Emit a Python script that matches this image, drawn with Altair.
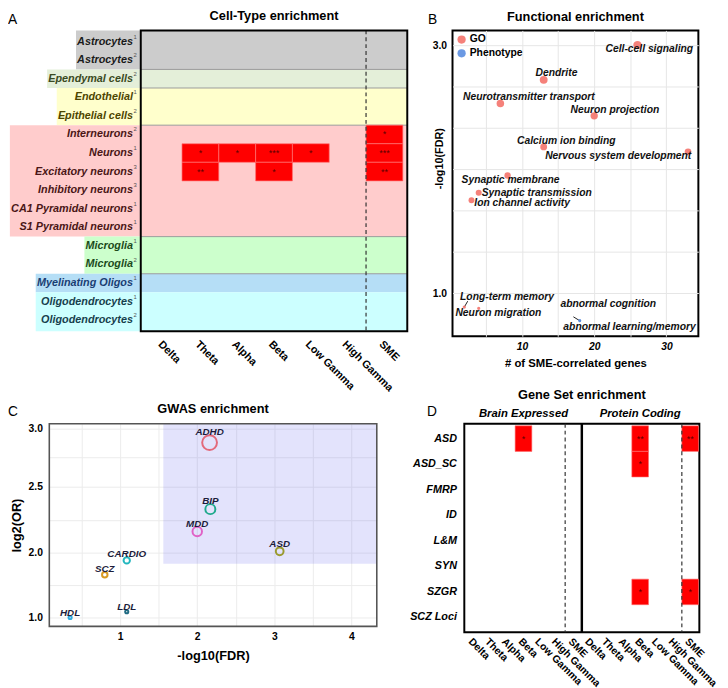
import altair as alt
import pandas as pd

FONT = "Liberation Sans"

# ===================== DATA =====================
# Panel A - cell-type enrichment
freq_bands = ["Delta", "Theta", "Alpha", "Beta", "Low Gamma", "High Gamma", "SME"]
cell_types = ["Astrocytes", "Astrocytes", "Ependymal cells", "Endothelial", "Epithelial cells",
              "Interneurons", "Neurons", "Excitatory neurons", "Inhibitory neurons",
              "CA1 Pyramidal neurons", "S1 Pyramidal neurons", "Microglia", "Microglia",
              "Myelinating Oligos", "Oligodendrocytes", "Oligodendrocytes"]
cell_refs = ["1", "2", "2", "1", "2", "2", "1", "3", "3", "1", "1", "1", "2", "1", "1", "2"]
cell_class = ["Astrocyte", "Astrocyte", "Ependymal", "Vascular", "Vascular",
              "Neuron", "Neuron", "Neuron", "Neuron", "Neuron", "Neuron",
              "Microglia", "Microglia", "Myelinating", "Oligodendrocyte", "Oligodendrocyte"]
cell_lineage = ["Astro", "Astro", "Ependymal", "Vascular", "Vascular",
                "Neuron", "Neuron", "Neuron", "Neuron", "Neuron", "Neuron",
                "Microglia", "Microglia", "Oligo", "Oligo", "Oligo"]
ct_hit_row = [6, 7, 7, 7, 7, 7, 8, 8, 8]
ct_hit_band = ["SME", "Theta", "Alpha", "Beta", "Low Gamma", "SME", "Theta", "Beta", "SME"]
ct_hit_stars = ["*", "*", "*", "***", "*", "***", "**", "*", "**"]

# Panel B - functional enrichment
fe_terms = ["Cell-cell signaling", "Dendrite", "Neurotransmitter transport", "Neuron projection",
            "Calcium ion binding", "Nervous system development", "Synaptic membrane",
            "Synaptic transmission", "Ion channel activity", "Long-term memory",
            "Neuron migration", "abnormal cognition", "abnormal learning/memory"]
fe_genes = [26, 13, 7, 20, 13, 33, 8, 4, 3, 2, 4, 18, 18]
fe_mlogfdr = [3.0, 2.72, 2.53, 2.43, 2.18, 2.14, 1.95, 1.81, 1.75, 0.89, 0.88, 0.78, 0.78]
fe_source = ["GO"] * 11 + ["Phenotype"] * 2

# Panel C - GWAS enrichment
gwas_traits = ["ADHD", "BIP", "MDD", "ASD", "CARDIO", "SCZ", "LDL", "HDL"]
gwas_mlogfdr = [2.16, 2.17, 2.0, 3.07, 1.085, 0.8, 1.085, 0.35]
gwas_log2or = [2.88, 2.33, 2.16, 2.01, 1.88, 1.66, 1.09, 1.0]
gwas_overlap = [22, 10, 9, 6, 4, 3, 1, 1]
gwas_fdr_cut = 1.56
gwas_or_cut = 1.83

# Panel D - gene set enrichment
gene_sets = ["ASD", "ASD_SC", "FMRP", "ID", "L&M", "SYN", "SZGR", "SCZ Loci"]
gs_backgrounds = ["Brain Expressed", "Protein Coding"]
gs_hit_bg = ["Brain Expressed", "Protein Coding", "Protein Coding", "Protein Coding",
             "Protein Coding", "Protein Coding"]
gs_hit_set = ["ASD", "ASD", "ASD", "ASD_SC", "SZGR", "SZGR"]
gs_hit_band = ["Beta", "Beta", "SME", "Beta", "Beta", "SME"]
gs_hit_stars = ["*", "**", "**", "*", "*", "*"]

# ===================== STYLE =====================
class_order = ["Astrocyte", "Ependymal", "Vascular", "Neuron", "Microglia", "Myelinating", "Oligodendrocyte"]
class_fill = ["#cccccc", "#e4efd9", "#ffffcc", "#ffcccc", "#ccffcc", "#b5def6", "#ccffff"]
class_text = ["#1a1a1a", "#3a4a22", "#4d4500", "#4a1616", "#1b4a1b", "#1a3d73", "#17404d"]
fe_colors = ["#f4736c", "#5b8ee0"]
fe_label_nudge = [(12, 4), (13, -7), (29, -6), (21, -6), (23, -6), (-71, 4), (3, 5),
                  (59, 0), (51.5, 3), (43.5, -10.7), (20, 5), (29, -17), (50.6, 6.3)]
# leader segments (pixel end offsets from the point) for repelled labels
fe_leaders = {9: (3.5, -6), 12: (-6.5, -4)}
gwas_colors = ["#e36a7b", "#1fa98c", "#e062c6", "#9a9a2e", "#22b6be", "#d99a22", "#1f6a82", "#2eaadf"]

ARIAL_BOLD = {' ': 278, 'A': 722, 'C': 722, 'D': 722, 'E': 667, 'I': 278, 'M': 833, 'N': 722,
              'O': 778, 'P': 667, 'S': 667, 'T': 611, '1': 556,
              'a': 556, 'b': 611, 'c': 556, 'd': 611, 'e': 556, 'f': 333, 'g': 611, 'h': 611,
              'i': 278, 'l': 278, 'm': 889, 'n': 611, 'o': 611, 'p': 611, 'r': 389, 's': 556,
              't': 333, 'u': 611, 'x': 556, 'y': 556}


def text_width(s, size):
    return sum(ARIAL_BOLD.get(ch, 600) for ch in s) * size / 1000.0


# plot-area sizes
LEFT_GAP = 42
A_LAB_W, A_W, A_H = 93, 271, 306
AB_GAP = 46
B_W, B_H = 250, 311
C_W, C_H = 333, 206
CD_GAP = 89
D_W, D_H = 239, 212
ROW_GAP = -5


def letter_chart(letter, width, height, x, y):
    return alt.Chart(pd.DataFrame({"t": [letter]})).mark_text(
        align="left", baseline="alphabetic", font=FONT, fontSize=14, color="black").encode(
        text="t:N", x=alt.value(x), y=alt.value(y)).properties(width=width, height=height)


# ===================== PANEL A =====================
n_rows = len(cell_types)
A_XDOM = [0.38, len(freq_bands) + 0.62]
A_YDOM = [0.4, n_rows + 0.6]
LABEL_SIZE = 11

rows_df = pd.DataFrame({"row": list(range(1, n_rows + 1)), "label": cell_types,
                        "ref": cell_refs, "cls": cell_class})
rows_df["xr"] = 1.0

lineage_ext = {}
for lab, lin in zip(cell_types, cell_lineage):
    lineage_ext[lin] = max(lineage_ext.get(lin, 0), text_width(lab, LABEL_SIZE) + 9)

runs = []
start = 1
for i in range(1, n_rows + 1):
    if i == n_rows or cell_class[i] != cell_class[i - 1]:
        runs.append((cell_class[i - 1], cell_lineage[i - 1], start, i))
        start = i + 1
band_df = pd.DataFrame({
    "cls": [r[0] for r in runs],
    "y0": [A_YDOM[0] if r[2] == 1 else r[2] - 0.5 for r in runs],
    "y1": [A_YDOM[1] if r[3] == n_rows else r[3] + 0.5 for r in runs],
    "lx0": [1 - lineage_ext[r[1]] / A_LAB_W for r in runs],
    "lx1": [1.0] * len(runs),
    "gx0": [A_XDOM[0]] * len(runs),
    "gx1": [A_XDOM[1]] * len(runs),
})
sep_df = pd.DataFrame({"y": [i + 0.5 for i in range(1, n_rows)
                             if cell_lineage[i] != cell_lineage[i - 1]]})

col_of = {b: i + 1 for i, b in enumerate(freq_bands)}
hits_df = pd.DataFrame({"row": ct_hit_row, "col": [col_of[b] for b in ct_hit_band],
                        "stars": ct_hit_stars})
hits_df["x0"] = hits_df["col"] - 0.5
hits_df["x1"] = hits_df["col"] + 0.5
hits_df["y0"] = hits_df["row"] - 0.5
hits_df["y1"] = hits_df["row"] + 0.5
dash_df = pd.DataFrame({"x": [col_of["SME"] - 0.5]})
bordA_df = pd.DataFrame({"x0": [A_XDOM[0]], "x1": [A_XDOM[1]], "y0": [A_YDOM[0]], "y1": [A_YDOM[1]]})

sAx = alt.Scale(domain=A_XDOM, nice=False, zero=False)
sAy = alt.Scale(domain=A_YDOM, reverse=True, nice=False, zero=False)
sLx = alt.Scale(domain=[0, 1], nice=False, zero=False)
fill_scale = alt.Scale(domain=class_order, range=class_fill)
textcol_scale = alt.Scale(domain=class_order, range=class_text)

band_names_js = "[" + ",".join("'" + b + "'" for b in freq_bands) + "]"
axA = alt.Axis(values=list(range(1, len(freq_bands) + 1)),
               labelExpr=band_names_js + "[datum.value - 1]",
               labelAngle=45, labelAlign="left", labelBaseline="top", labelPadding=7,
               labelFontSize=11, labelFontWeight="bold", labelOverlap=False, labelBound=False,
               ticks=False, domain=False, grid=False, title=None)

lab_bands = alt.Chart(band_df).mark_rect().encode(
    x=alt.X("lx0:Q", scale=sLx, axis=None), x2="lx1:Q",
    y=alt.Y("y0:Q", scale=sAy, axis=None), y2="y1:Q",
    fill=alt.Fill("cls:N", scale=fill_scale, legend=None))
lab_text = alt.Chart(rows_df).mark_text(
    align="right", baseline="middle", dx=-8, font=FONT, fontSize=LABEL_SIZE,
    fontWeight="bold", fontStyle="italic").encode(
    x=alt.X("xr:Q", scale=sLx, axis=None), y=alt.Y("row:Q", scale=sAy, axis=None),
    text="label:N", color=alt.Color("cls:N", scale=textcol_scale, legend=None))
lab_sup = alt.Chart(rows_df).mark_text(
    align="left", baseline="middle", dx=-7.5, dy=-5, font=FONT, fontSize=6, color="#555555").encode(
    x=alt.X("xr:Q", scale=sLx, axis=None), y=alt.Y("row:Q", scale=sAy, axis=None), text="ref:N")
A_labels = alt.layer(lab_bands, lab_text, lab_sup).properties(width=A_LAB_W, height=A_H)

g_bands = alt.Chart(band_df).mark_rect().encode(
    x=alt.X("gx0:Q", scale=sAx, axis=axA), x2="gx1:Q",
    y=alt.Y("y0:Q", scale=sAy, axis=None), y2="y1:Q",
    fill=alt.Fill("cls:N", scale=fill_scale, legend=None))
g_seps = alt.Chart(sep_df).mark_rule(color="#9a9a9a", strokeWidth=1).encode(
    y=alt.Y("y:Q", scale=sAy, axis=None))
g_tiles = alt.Chart(hits_df).mark_rect(color="#ff0000", stroke="#ff7373", strokeWidth=0.7).encode(
    x=alt.X("x0:Q", scale=sAx, axis=axA), x2="x1:Q",
    y=alt.Y("y0:Q", scale=sAy, axis=None), y2="y1:Q")
g_stars = alt.Chart(hits_df).mark_text(font=FONT, fontSize=9, color="#5a0000", baseline="middle").encode(
    x=alt.X("col:Q", scale=sAx, axis=axA), y=alt.Y("row:Q", scale=sAy, axis=None), text="stars:N")
g_dash = alt.Chart(dash_df).mark_rule(color="#333333", strokeWidth=1.2, strokeDash=[4, 3]).encode(
    x=alt.X("x:Q", scale=sAx, axis=axA))
g_border = alt.Chart(bordA_df).mark_rect(fillOpacity=0, stroke="black", strokeWidth=2).encode(
    x=alt.X("x0:Q", scale=sAx, axis=axA), x2="x1:Q",
    y=alt.Y("y0:Q", scale=sAy, axis=None), y2="y1:Q")
A_grid = alt.layer(g_bands, g_seps, g_tiles, g_stars, g_dash, g_border).properties(
    width=A_W, height=A_H,
    title=alt.TitleParams("Cell-Type enrichment", frame="group", offset=7))

# ===================== PANEL B =====================
B_XDOM = [0.37, 34.43]
B_YDOM = [0.655, 3.118]
pxx_B = B_W / (B_XDOM[1] - B_XDOM[0])
pxy_B = B_H / (B_YDOM[1] - B_YDOM[0])
fe_df = pd.DataFrame({"term": fe_terms, "genes": fe_genes, "mlogfdr": fe_mlogfdr, "source": fe_source})
fe_df["lx"] = [g + n[0] / pxx_B for g, n in zip(fe_genes, fe_label_nudge)]
fe_df["ly"] = [v - n[1] / pxy_B for v, n in zip(fe_mlogfdr, fe_label_nudge)]
lead_idx = sorted(fe_leaders)
lead_df = pd.DataFrame({
    "x": [fe_genes[i] for i in lead_idx], "y": [fe_mlogfdr[i] for i in lead_idx],
    "x2": [fe_genes[i] + fe_leaders[i][0] / pxx_B for i in lead_idx],
    "y2": [fe_mlogfdr[i] - fe_leaders[i][1] / pxy_B for i in lead_idx]})

sBx = alt.Scale(domain=B_XDOM, nice=False, zero=False)
sBy = alt.Scale(domain=B_YDOM, nice=False, zero=False)
axBx = alt.Axis(values=[5, 10, 15, 20, 25, 30],
                labelExpr="datum.value % 10 === 0 ? format(datum.value, 'd') : ''",
                grid=True, gridColor="#e6e6e6", ticks=False, domain=False, labelOverlap=False,
                labelFontWeight="bold", labelFontStyle="italic", labelFontSize=10.5, labelPadding=5,
                title="# of SME-correlated genes", titleFontSize=11.5, titleFontWeight="bold",
                titlePadding=6)
axBy = alt.Axis(values=[1, 4 / 3, 5 / 3, 2, 7 / 3, 8 / 3, 3],
                labelExpr="(abs(datum.value - 1) < 0.001 || abs(datum.value - 3) < 0.001) ? format(datum.value, '.1f') : ''",
                grid=True, gridColor="#e6e6e6", ticks=False, domain=False, labelOverlap=False,
                labelFontWeight="bold", labelFontSize=10.5, labelPadding=6,
                title="-log10(FDR)", titleFontSize=11, titleFontWeight="bold",
                titleX=-13, titleY=130, titleBaseline="middle")

b_lead = alt.Chart(lead_df).mark_rule(color="#222222", strokeWidth=1).encode(
    x=alt.X("x:Q", scale=sBx, axis=axBx), y=alt.Y("y:Q", scale=sBy, axis=axBy),
    x2="x2:Q", y2="y2:Q")
b_points = alt.Chart(fe_df).mark_circle(opacity=0.9).encode(
    x=alt.X("genes:Q", scale=sBx, axis=axBx),
    y=alt.Y("mlogfdr:Q", scale=sBy, axis=axBy),
    color=alt.Color("source:N", scale=alt.Scale(domain=["GO", "Phenotype"], range=fe_colors),
                    legend=alt.Legend(orient="top-left", title=None, offset=4, padding=0,
                                      labelFont=FONT, labelFontWeight="bold", labelFontSize=10.5,
                                      symbolSize=70, symbolType="circle", rowPadding=3,
                                      labelOffset=3)),
    size=alt.Size("mlogfdr:Q", scale=alt.Scale(domain=[0.5, 3.0], range=[0, 72]), legend=None))
b_labels = alt.Chart(fe_df).mark_text(
    font=FONT, fontSize=10.5, fontWeight="bold", fontStyle="italic", color="#111111",
    baseline="middle").encode(
    x=alt.X("lx:Q", scale=sBx, axis=axBx), y=alt.Y("ly:Q", scale=sBy, axis=axBy), text="term:N")
B = alt.layer(b_lead, b_points, b_labels).properties(
    width=B_W, height=B_H,
    title=alt.TitleParams("Functional enrichment", frame="group", offset=7),
    view=alt.ViewBackground(stroke="black", strokeWidth=2))

# ===================== PANEL C =====================
C_XDOM = [0.08, 4.33]
C_YDOM = [0.864, 2.0, 2.5, 3.042]
C_YRANGE = [C_H, 131, 64, 0]
gw_df = pd.DataFrame({"trait": gwas_traits, "fdr": gwas_mlogfdr, "or": gwas_log2or,
                      "overlap": gwas_overlap})
shade_df = pd.DataFrame({"x0": [gwas_fdr_cut], "x1": [C_XDOM[1]], "y0": [gwas_or_cut], "y1": [C_YDOM[-1]]})
bordC_df = pd.DataFrame({"x0": [C_XDOM[0]], "x1": [C_XDOM[1]], "y0": [C_YDOM[0]], "y1": [C_YDOM[-1]]})
sCx = alt.Scale(domain=C_XDOM, nice=False, zero=False)
sCy = alt.Scale(domain=C_YDOM, range=C_YRANGE, nice=False, zero=False)
OV_MAX, AREA_MAX = 22, 227
axCx = alt.Axis(values=[0.5, 1, 1.5, 2, 2.5, 3, 3.5, 4],
                labelExpr="datum.value % 1 === 0 ? format(datum.value, 'd') : ''",
                grid=True, gridColor="#ececec", ticks=False, domain=False, labelOverlap=False,
                labelFontWeight="bold", labelFontSize=10.5, labelPadding=5,
                title="-log10(FDR)", titleFontSize=13, titleFontWeight="bold", titlePadding=8)
axCy = alt.Axis(values=[1, 1.5, 2, 2.25, 2.5, 2.75, 3],
                labelExpr="(datum.value === 1 || datum.value === 2 || datum.value === 2.5 || datum.value === 3) ? format(datum.value, '.1f') : ''",
                grid=True, gridColor="#ececec", ticks=False, domain=False, labelOverlap=False,
                labelFontWeight="bold", labelFontSize=10.5, labelPadding=7,
                title="log2(OR)", titleFontSize=13, titleFontWeight="bold", titlePadding=5)
c_shade = alt.Chart(shade_df).mark_rect(color="#5a5aee", opacity=0.17).encode(
    x=alt.X("x0:Q", scale=sCx, axis=axCx), x2="x1:Q",
    y=alt.Y("y0:Q", scale=sCy, axis=axCy), y2="y1:Q")
c_points = alt.Chart(gw_df).mark_point(filled=False, strokeWidth=2, opacity=1).encode(
    x=alt.X("fdr:Q", scale=sCx, axis=axCx), y=alt.Y("or:Q", scale=sCy, axis=axCy),
    color=alt.Color("trait:N", scale=alt.Scale(domain=gwas_traits, range=gwas_colors), legend=None),
    size=alt.Size("overlap:Q", scale=alt.Scale(domain=[0, OV_MAX], range=[0, AREA_MAX]), legend=None))
c_labels = alt.Chart(gw_df).mark_text(
    font=FONT, fontSize=10, fontWeight="bold", fontStyle="italic", color="#1c1c3a",
    baseline="alphabetic",
    dy=alt.ExprRef(f"-(sqrt(datum.overlap * {AREA_MAX} / {OV_MAX} / PI) - 0.5)")).encode(
    x=alt.X("fdr:Q", scale=sCx, axis=axCx), y=alt.Y("or:Q", scale=sCy, axis=axCy), text="trait:N")
c_border = alt.Chart(bordC_df).mark_rect(fillOpacity=0, stroke="#555555", strokeWidth=1.6).encode(
    x=alt.X("x0:Q", scale=sCx, axis=axCx), x2="x1:Q",
    y=alt.Y("y0:Q", scale=sCy, axis=axCy), y2="y1:Q")
C = alt.layer(c_shade, c_points, c_labels, c_border).properties(
    width=C_W, height=C_H,
    title=alt.TitleParams("GWAS enrichment", frame="group", offset=7))

# ===================== PANEL D =====================
d_keys = [bg + "|" + b for bg in gs_backgrounds for b in freq_bands]
gs_df = pd.DataFrame({"key": [bg + "|" + b for bg, b in zip(gs_hit_bg, gs_hit_band)],
                      "set": gs_hit_set, "stars": gs_hit_stars})
gs_dash_df = pd.DataFrame({"key": [bg + "|SME" for bg in gs_backgrounds]})
gs_div_df = pd.DataFrame({"key": [gs_backgrounds[1] + "|" + freq_bands[0]]})
gs_strip_df = pd.DataFrame({"bg": gs_backgrounds,
                            "key": [bg + "|" + freq_bands[len(freq_bands) // 2] for bg in gs_backgrounds]})
sDx = alt.Scale(domain=d_keys, paddingInner=0, paddingOuter=0.05)
sDy = alt.Scale(domain=gene_sets, paddingInner=0, paddingOuter=0.08)
axDx = alt.Axis(labelExpr="split(datum.value, '|')[1]",
                labelAngle=45, labelAlign="left", labelBaseline="top", labelPadding=4,
                labelFontSize=10.5, labelFontWeight="bold", labelOverlap=False, labelBound=False,
                ticks=False, domain=False, grid=False, title=None)
axDy = alt.Axis(labelFontStyle="italic", labelFontWeight="bold", labelFontSize=11,
                ticks=False, domain=False, labelPadding=8, title=None, grid=False)

d_tiles = alt.Chart(gs_df).mark_rect(color="#ff0000", stroke="#ff6a6a", strokeWidth=0.6).encode(
    x=alt.X("key:N", scale=sDx, axis=axDx), y=alt.Y("set:N", scale=sDy, axis=axDy))
d_stars = alt.Chart(gs_df).mark_text(font=FONT, fontSize=9, color="#5a0000", baseline="middle").encode(
    x=alt.X("key:N", scale=sDx, axis=axDx), y=alt.Y("set:N", scale=sDy, axis=axDy), text="stars:N")
d_dash = alt.Chart(gs_dash_df).mark_rule(color="#333333", strokeWidth=1.2, strokeDash=[4, 3]).encode(
    x=alt.X("key:N", scale=sDx, axis=axDx, bandPosition=0))
d_div = alt.Chart(gs_div_df).mark_rule(color="black", strokeWidth=2.5).encode(
    x=alt.X("key:N", scale=sDx, axis=axDx, bandPosition=0))
d_strip = alt.Chart(gs_strip_df).mark_text(
    font=FONT, fontSize=11.5, fontWeight="bold", fontStyle="italic", color="black",
    baseline="alphabetic").encode(
    x=alt.X("key:N", scale=sDx, axis=axDx), y=alt.value(-7), text="bg:N")
D = alt.layer(d_tiles, d_stars, d_dash, d_div, d_strip).properties(
    width=D_W, height=D_H,
    title=alt.TitleParams("Gene Set enrichment", frame="group", offset=6),
    view=alt.ViewBackground(stroke="black", strokeWidth=2))


def indep(c):
    return c.resolve_scale(x="independent", y="independent", color="independent",
                           fill="independent", size="independent")


row1 = indep(alt.hconcat(
    letter_chart("A", LEFT_GAP, A_H, 0, -7), A_labels, A_grid,
    letter_chart("B", AB_GAP, A_H, 21, -7), B,
    spacing=0, bounds="flush"))
row2 = indep(alt.hconcat(
    letter_chart("C", LEFT_GAP, C_H, 0, -8), C,
    letter_chart("D", CD_GAP, C_H, 51, -8), D,
    spacing=0, bounds="flush"))
chart = indep(alt.vconcat(row1, row2, spacing=ROW_GAP)).properties(
    padding={"top": -4, "left": 0, "right": 0, "bottom": 0}
).configure(font=FONT, background="white").configure_view(stroke=None).configure_axis(
    labelFont=FONT, titleFont=FONT, labelColor="black", titleColor="black"
).configure_title(font=FONT, fontSize=13, fontWeight="bold", color="black")

chart.save("out.html", embed_options={"renderer": "svg", "actions": False})
